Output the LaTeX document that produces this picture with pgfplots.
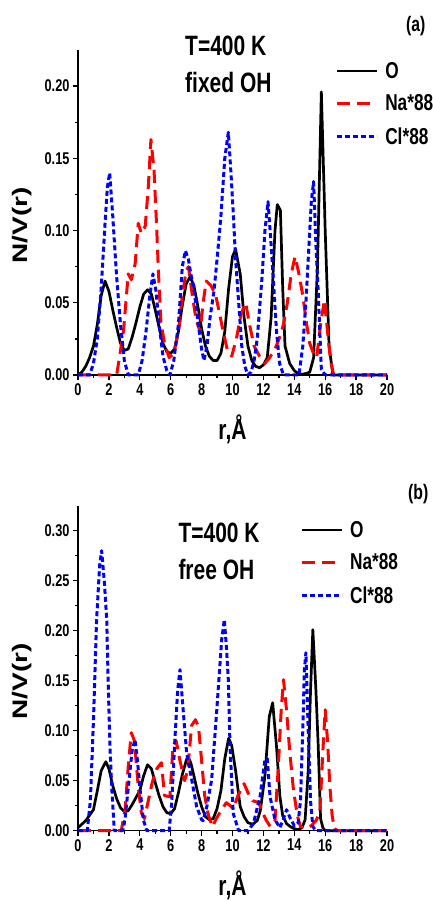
\documentclass[border=0pt]{standalone}
\usepackage{fontspec}
\setmainfont{Liberation Sans}[FakeStretch=0.75]
\usepackage{graphicx}
\usepackage{pgfplots}
\pgfplotsset{compat=1.18}
\definecolor{myred}{RGB}{255,0,0}
\definecolor{myblue}{RGB}{0,0,255}
\pgfplotsset{
  panel/.style={
    scale only axis, width=309pt, height=325pt,
    axis lines*=left,
    axis line style={line width=1.4pt},
    xmin=0, xmax=20, ymin=0,
    xtick={0,2,4,6,8,10,12,14,16,18,20},
    minor x tick num=1, minor y tick num=1,
    tick align=outside,
    major tick length=5pt, minor tick length=3pt,
    every tick/.style={line width=1.3pt, black},
    tick label style={font=\fontsize{17}{18}\selectfont\bfseries},
    /pgf/number format/assume math mode=true,
    yticklabel style={/pgf/number format/fixed, /pgf/number format/fixed zerofill, /pgf/number format/precision=2},
    scaled y ticks=false,
    clip=false,
    xlabel={\fontsize{28}{30}\selectfont\bfseries r,Å},
    xlabel style={at={(axis description cs:0.5,-0.2)}, anchor=base, inner sep=0pt},
    ylabel={\scalebox{1.3333}[0.75]{\fontsize{28}{30}\selectfont\bfseries N/V(r)}},
    ylabel style={at={(axis description cs:-0.181,0.46)}, anchor=center, inner sep=0pt},
    legend image code/.code={\draw[##1] (0pt,0pt) -- (40pt,0pt);},
    legend style={draw=none, fill=none, inner sep=0pt, row sep=11pt, column sep=5pt,
      font=\fontsize{23}{25}\selectfont\bfseries, nodes={inner sep=2pt}},
    legend cell align=left,
  },
  Oline/.style={black, line width=2.7pt, line join=round},
  Naline/.style={myred, line width=3pt, line join=round, dash pattern=on 13pt off 7pt},
  Clline/.style={myblue, line width=3pt, line join=round, dash pattern=on 5pt off 3pt},
}
\begin{document}
\begin{tikzpicture}
\useasboundingbox (0pt,0pt) rectangle (432pt,901pt);
% ---------------- panel (a)
\begin{axis}[panel, at={(78pt,526pt)}, anchor=south west,
  ymax=0.225, ytick={0,0.05,0.10,0.15,0.20},
  legend style={at={(axis description cs:0.832,0.969)}, anchor=north west}]
\addplot[Oline] coordinates {
(0,0) (0.25,0.002) (0.5,0.006) (0.75,0.012) (1.0,0.02) (1.25,0.035) (1.5,0.055) (1.75,0.065) (2.0,0.058) (2.25,0.045) (2.5,0.033) (2.75,0.022) (3.0,0.017) (3.25,0.018) (3.5,0.026) (3.75,0.036) (4.0,0.047) (4.25,0.056) (4.5,0.059) (4.75,0.056) (5.0,0.045) (5.25,0.033) (5.5,0.022) (5.75,0.016) (6.0,0.015) (6.25,0.018) (6.5,0.03) (6.75,0.048) (7.0,0.063) (7.25,0.068) (7.5,0.062) (7.75,0.048) (8.0,0.032) (8.25,0.02) (8.5,0.013) (8.75,0.01) (9.0,0.01) (9.25,0.015) (9.5,0.03) (9.75,0.06) (10.0,0.082) (10.2,0.087) (10.5,0.07) (10.75,0.04) (11.0,0.02) (11.25,0.01) (11.5,0.006) (11.75,0.005) (12.0,0.007) (12.25,0.012) (12.5,0.04) (12.75,0.1) (12.9,0.118) (13.1,0.114) (13.25,0.06) (13.4,0.02) (13.7,0.008) (14.0,0.003) (14.25,0.001) (14.5,0.0005) (14.75,0.001) (15.0,0.002) (15.25,0.012) (15.5,0.075) (15.75,0.196) (16.0,0.1) (16.25,0.02) (16.5,0) (17,0) (18,0) (19,0) (20,0)
};
\addlegendentry{O}
\addplot[Naline] coordinates {
(0,0) (1,0) (2,0) (2.5,0) (2.65,0.01) (2.95,0.031) (3.25,0.07) (3.45,0.066) (3.7,0.077) (3.9,0.105) (4.1,0.098) (4.35,0.103) (4.55,0.13) (4.72,0.163) (4.92,0.142) (5.08,0.105) (5.2,0.073) (5.37,0.036) (5.6,0.022) (5.9,0.012) (6.2,0.015) (6.5,0.03) (6.75,0.055) (7.0,0.072) (7.15,0.075) (7.4,0.055) (7.65,0.038) (7.9,0.03) (8.1,0.05) (8.3,0.065) (8.6,0.062) (8.9,0.056) (9.15,0.043) (9.4,0.03) (9.65,0.018) (9.95,0.013) (10.25,0.025) (10.55,0.042) (10.85,0.05) (11.1,0.035) (11.4,0.02) (11.8,0.012) (12.1,0.008) (12.4,0.012) (12.75,0.018) (13.05,0.026) (13.3,0.035) (13.55,0.05) (13.8,0.07) (14.05,0.082) (14.3,0.07) (14.55,0.055) (14.8,0.035) (15.0,0.022) (15.2,0.016) (15.45,0.012) (15.7,0.035) (15.95,0.052) (16.15,0.03) (16.35,0.01) (16.55,0) (17,0) (18,0) (19,0) (20,0)
};
\addlegendentry{Na*88}
\addplot[Clline] coordinates {
(0,0) (0.75,0) (1.0,0.008) (1.25,0.025) (1.5,0.06) (1.75,0.105) (1.9,0.13) (2.05,0.14) (2.25,0.11) (2.5,0.068) (2.75,0.035) (3.0,0.01) (3.25,0) (3.9,0) (4.15,0.01) (4.4,0.03) (4.65,0.055) (4.85,0.07) (5.05,0.058) (5.25,0.035) (5.5,0.013) (5.75,0.003) (5.95,0) (6.2,0.01) (6.5,0.035) (6.75,0.075) (6.95,0.086) (7.15,0.08) (7.3,0.07) (7.5,0.06) (7.75,0.038) (8.0,0.018) (8.15,0.01) (8.35,0.02) (8.55,0.04) (8.8,0.058) (9.0,0.08) (9.25,0.11) (9.5,0.15) (9.73,0.168) (9.9,0.14) (10.05,0.112) (10.2,0.08) (10.4,0.05) (10.6,0.02) (10.8,0.006) (11.0,0) (11.2,0.002) (11.4,0.01) (11.6,0.025) (11.9,0.066) (12.1,0.1) (12.3,0.12) (12.5,0.09) (12.65,0.065) (12.85,0.03) (13.05,0.008) (13.3,0) (14.3,0) (14.55,0.02) (14.75,0.05) (14.95,0.09) (15.1,0.12) (15.25,0.134) (15.4,0.09) (15.55,0.057) (15.75,0.004) (16,0) (17,0) (18,0) (19,0) (20,0)
};
\addlegendentry{Cl*88}
\end{axis}
% ---------------- panel (b)
\begin{axis}[panel, at={(78pt,70.3pt)}, anchor=south west,
  ymax=0.325, ytick={0,0.05,0.10,0.15,0.20,0.25,0.30},
  legend style={at={(axis description cs:0.718,0.959)}, anchor=north west}]
\addplot[Oline] coordinates {
(0,0.003) (0.5,0.01) (1.0,0.021) (1.25,0.04) (1.5,0.06) (1.8,0.069) (2.0,0.062) (2.25,0.045) (2.5,0.032) (2.75,0.023) (3.0,0.019) (3.25,0.02) (3.5,0.026) (3.75,0.033) (4.0,0.04) (4.25,0.055) (4.5,0.066) (4.75,0.062) (5.0,0.048) (5.25,0.035) (5.5,0.024) (5.75,0.018) (6.0,0.017) (6.25,0.022) (6.5,0.038) (6.75,0.056) (7.0,0.07) (7.1,0.074) (7.3,0.068) (7.5,0.055) (7.75,0.038) (8.0,0.024) (8.25,0.014) (8.5,0.011) (8.75,0.012) (9.0,0.022) (9.25,0.04) (9.5,0.072) (9.75,0.0925) (9.95,0.085) (10.2,0.06) (10.5,0.024) (10.75,0.014) (11.0,0.008) (11.3,0.0065) (11.6,0.01) (11.8,0.02) (12.1,0.055) (12.38,0.114) (12.6,0.128) (12.85,0.084) (13.07,0.034) (13.25,0.015) (13.5,0.007) (13.75,0.004) (14.0,0.002) (14.25,0.001) (14.5,0.003) (14.7,0.011) (14.9,0.06) (15.05,0.14) (15.2,0.201) (15.4,0.14) (15.55,0.084) (15.7,0.012) (15.85,0.003) (16.0,0) (17,0) (18,0) (19,0) (20,0)
};
\addlegendentry{O}
\addplot[Naline] coordinates {
(0,0) (1,0) (2,0) (2.8,0) (3.05,0.021) (3.25,0.064) (3.45,0.098) (3.65,0.09) (3.9,0.044) (4.1,0.018) (4.3,0.012) (4.55,0.03) (4.8,0.048) (5.1,0.062) (5.4,0.068) (5.6,0.035) (5.95,0.034) (6.15,0.085) (6.35,0.09) (6.6,0.07) (6.9,0.05) (7.1,0.06) (7.35,0.105) (7.6,0.111) (7.8,0.104) (8.0,0.07) (8.2,0.035) (8.45,0.015) (8.7,0.004) (8.95,0.012) (9.25,0.02) (9.6,0.028) (9.85,0.025) (10.05,0.022) (10.35,0.035) (10.75,0.047) (11.0,0.038) (11.3,0.03) (11.7,0.028) (11.95,0.018) (12.2,0.01) (12.45,0.004) (12.75,0.01) (12.95,0.06) (13.15,0.12) (13.3,0.151) (13.5,0.12) (13.7,0.08) (13.95,0.04) (14.2,0.015) (14.4,0.004) (14.8,0.003) (15.1,0.005) (15.4,0.01) (15.65,0.018) (15.85,0.08) (16.0,0.121) (16.15,0.09) (16.3,0.045) (16.45,0.015) (16.6,0.002) (16.8,0) (18,0) (19,0) (20,0)
};
\addlegendentry{Na*88}
\addplot[Clline] coordinates {
(0,0) (0.6,0) (0.8,0.03) (1.0,0.11) (1.2,0.21) (1.4,0.265) (1.53,0.28) (1.7,0.25) (1.86,0.211) (1.96,0.144) (2.08,0.08) (2.18,0.044) (2.35,0) (2.9,0) (3.04,0.011) (3.26,0.044) (3.5,0.08) (3.69,0.091) (3.85,0.07) (4.0,0.044) (4.23,0.011) (4.45,0) (5.9,0) (6.06,0.027) (6.28,0.094) (6.45,0.14) (6.6,0.161) (6.82,0.118) (7.03,0.078) (7.36,0.051) (7.68,0.024) (8.0,0.011) (8.1,0.01) (8.35,0.025) (8.65,0.051) (8.97,0.118) (9.3,0.191) (9.47,0.211) (9.6,0.185) (9.73,0.151) (9.84,0.084) (10.05,0.017) (10.4,0) (11.0,0) (11.35,0.007) (11.78,0.034) (12.1,0.071) (12.25,0.072) (12.43,0.034) (12.75,0.011) (13.07,0.003) (13.3,0.012) (13.5,0.021) (13.75,0.012) (14.0,0.005) (14.25,0.008) (14.4,0.03) (14.55,0.1) (14.65,0.16) (14.75,0.178) (14.9,0.1) (15.05,0.03) (15.2,0.004) (15.4,0) (16,0) (17,0) (18,0) (19,0) (20,0)
};
\addlegendentry{Cl*88}
\end{axis}
% ---------------- annotations
\node[anchor=base west, inner sep=0pt, font=\fontsize{28}{30}\selectfont\bfseries] at (185pt,845pt) {T=400 K};
\node[anchor=base west, inner sep=0pt, font=\fontsize{28}{30}\selectfont\bfseries] at (185pt,808pt) {fixed OH};
\node[anchor=base west, inner sep=0pt, font=\fontsize{21}{23}\selectfont\bfseries] at (406pt,869.5pt) {(a)};
\node[anchor=base west, inner sep=0pt, font=\fontsize{28}{30}\selectfont\bfseries] at (178.3pt,358.3pt) {T=400 K};
\node[anchor=base west, inner sep=0pt, font=\fontsize{28}{30}\selectfont\bfseries] at (178.3pt,321.7pt) {free OH};
\node[anchor=base west, inner sep=0pt, font=\fontsize{21}{23}\selectfont\bfseries] at (408pt,401pt) {(b)};
\end{tikzpicture}
\end{document}
